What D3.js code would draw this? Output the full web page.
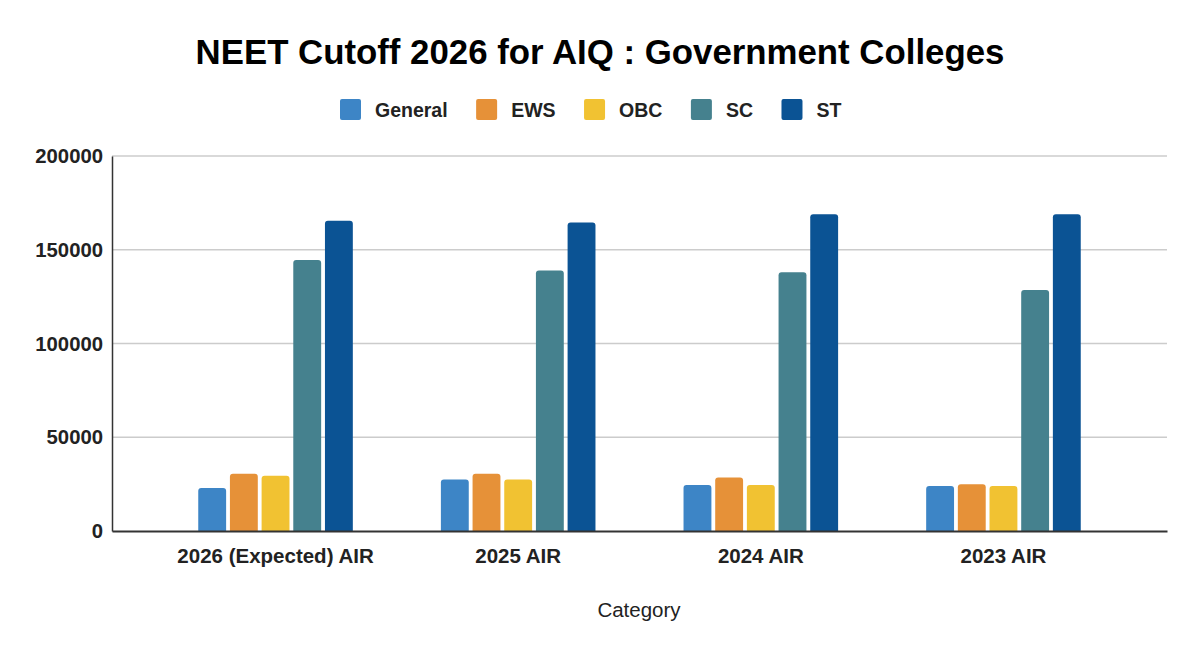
<!DOCTYPE html>
<html>
<head>
<meta charset="utf-8">
<script src="https://cdn.jsdelivr.net/npm/d3@7"></script>
<style>
  html, body { margin: 0; padding: 0; background: #fff; }
  svg { display: block; font-family: "Liberation Sans", Arial, sans-serif; }
</style>
</head>
<body>
<div id="chart"></div>
<script>
// Chart data
const categories = ["2026 (Expected) AIR", "2025 AIR", "2024 AIR", "2023 AIR"];
const seriesNames = ["General", "EWS", "OBC", "SC", "ST"];
const seriesColors = ["#3d85c6", "#e69138", "#f1c232", "#45818e", "#0b5394"];
const general = [23000, 27500, 24500, 24000];
const ews = [30500, 30500, 28500, 25000];
const obc = [29500, 27500, 24500, 24000];
const sc = [144500, 139000, 138000, 128500];
const st = [165500, 164500, 169000, 169000];
const yTicks = [0, 50000, 100000, 150000, 200000];

const seriesValues = [general, ews, obc, sc, st];

const width = 1200, height = 656;
const margin = { top: 156, right: 33, bottom: 125, left: 112 };

const svg = d3.select("#chart").append("svg")
  .attr("width", width)
  .attr("height", height);

svg.append("rect").attr("width", width).attr("height", height).attr("fill", "#fff");

// Title
svg.append("text")
  .attr("x", 600)
  .attr("y", 64)
  .attr("text-anchor", "middle")
  .style("font-size", "34.8px")
  .style("font-weight", "bold")
  .attr("fill", "#000")
  .text("NEET Cutoff 2026 for AIQ : Government Colleges");

// Scales
const x = d3.scaleBand()
  .domain(categories)
  .range([margin.left, width - margin.right])
  .paddingInner(0)
  .paddingOuter(0.174);

const xInner = d3.scaleBand()
  .domain(seriesNames)
  .range([0, x.bandwidth()])
  .paddingInner(0.12)
  .paddingOuter(1.39);

const y = d3.scaleLinear()
  .domain([0, 200000])
  .range([height - margin.bottom, margin.top]);

// Grid lines
svg.append("g")
  .selectAll("line")
  .data(yTicks.filter(d => d > 0))
  .enter()
  .append("line")
  .attr("x1", margin.left)
  .attr("x2", width - margin.right)
  .attr("y1", d => y(d))
  .attr("y2", d => y(d))
  .attr("stroke", "#cccccc")
  .attr("stroke-width", 1.5);

// Y axis
const yAxis = svg.append("g")
  .attr("transform", "translate(" + margin.left + ",0)")
  .call(d3.axisLeft(y).tickValues(yTicks).tickSize(0).tickPadding(9).tickFormat(d3.format("d")));
yAxis.select(".domain").attr("stroke", "#333").attr("stroke-width", 1.5);
yAxis.selectAll("text")
  .style("font-size", "20.3px")
  .style("font-weight", "bold")
  .attr("fill", "#222")
  .attr("font-family", null);

// Rounded-top bar path
function barPath(x0, y0, w, h, r) {
  r = Math.min(r, h, w / 2);
  return "M" + x0 + "," + (y0 + h) +
    "V" + (y0 + r) +
    "Q" + x0 + "," + y0 + " " + (x0 + r) + "," + y0 +
    "H" + (x0 + w - r) +
    "Q" + (x0 + w) + "," + y0 + " " + (x0 + w) + "," + (y0 + r) +
    "V" + (y0 + h) + "Z";
}

// Bars
const groups = svg.append("g")
  .selectAll("g")
  .data(categories)
  .enter()
  .append("g")
  .attr("transform", d => "translate(" + x(d) + ",0)");

groups.selectAll("path")
  .data((c, i) => seriesNames.map((s, j) => ({ series: s, value: seriesValues[j][i], color: seriesColors[j] })))
  .enter()
  .append("path")
  .attr("d", d => barPath(xInner(d.series), y(d.value), xInner.bandwidth(), y(0) - y(d.value), 3))
  .attr("fill", d => d.color);

// X axis baseline
const xAxis = svg.append("g")
  .attr("transform", "translate(0," + y(0) + ")")
  .call(d3.axisBottom(x).tickSize(0).tickPadding(17));
xAxis.select(".domain").attr("stroke", "#333").attr("stroke-width", 2);
xAxis.selectAll("text")
  .style("font-size", "20.5px")
  .style("font-weight", "bold")
  .attr("fill", "#222")
  .attr("font-family", null);

// X axis title
svg.append("text")
  .attr("x", 639)
  .attr("y", 617)
  .attr("text-anchor", "middle")
  .style("font-size", "20.5px")
  .attr("fill", "#222")
  .text("Category");

// Legend
const legend = svg.append("g");
let lx = 340;
seriesNames.forEach((s, i) => {
  const item = legend.append("g").attr("transform", "translate(" + lx + ",0)");
  item.append("rect")
    .attr("x", 0)
    .attr("y", 99)
    .attr("width", 21)
    .attr("height", 21)
    .attr("rx", 2)
    .attr("fill", seriesColors[i]);
  const t = item.append("text")
    .attr("x", 35)
    .attr("y", 116.5)
    .style("font-size", "19.5px")
    .style("font-weight", "bold")
    .attr("fill", "#222")
    .text(s);
  lx += 35 + t.node().getComputedTextLength() + 28.5;
});
</script>
</body>
</html>
